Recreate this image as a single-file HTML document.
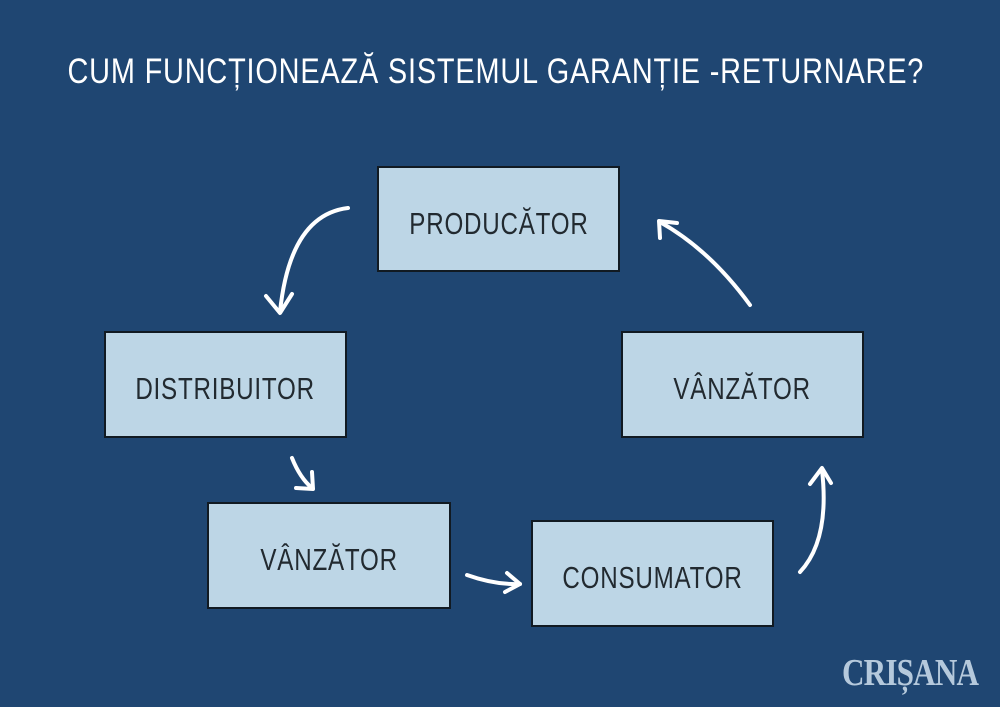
<!DOCTYPE html>
<html><head><meta charset="utf-8"><style>
body{margin:0;width:1000px;height:707px;background:#1f4672;overflow:hidden;position:relative;font-family:"Liberation Sans",sans-serif}
.t{position:absolute;left:-20px;width:1000px;top:52px;text-align:center;color:#fff;font-size:35px;letter-spacing:1px;white-space:nowrap;transform:scaleX(0.825);}
.b{position:absolute;width:238px;height:102px;background:#bdd6e6;border:2px solid #111a22;box-sizing:border-box;display:flex;align-items:center;justify-content:center;color:#222a30;font-size:31px;padding-top:9px}
.b span{display:inline-block;transform:scaleX(0.78);letter-spacing:1px;white-space:nowrap}
.logo{position:absolute;left:842px;top:651px;font-family:"Liberation Serif",serif;font-weight:bold;color:#b5c9dc;font-size:38px;transform:scaleX(0.82);transform-origin:left;letter-spacing:-1px}
</style></head><body>
<div class="t">CUM FUNCȚIONEAZĂ SISTEMUL GARANȚIE -RETURNARE?</div>
<div class="b" style="left:377px;top:166px;width:243px;height:106px"><span>PRODUCĂTOR</span></div>
<div class="b" style="left:104px;top:331px;width:243px;height:107px"><span>DISTRIBUITOR</span></div>
<div class="b" style="left:207px;top:502px;width:244px;height:107px"><span>VÂNZĂTOR</span></div>
<div class="b" style="left:531px;top:520px;width:243px;height:107px"><span>CONSUMATOR</span></div>
<div class="b" style="left:621px;top:331px;width:243px;height:107px"><span>VÂNZĂTOR</span></div>
<svg width="1000" height="707" style="position:absolute;left:0;top:0" fill="none" stroke="#fff" stroke-width="4" stroke-linecap="round" stroke-linejoin="round">
<path d="M348 208 Q290 215 280 312"/><path d="M266 296 L280 313 L292 294"/>
<path d="M292 458 Q300 478 312 488"/><path d="M296 488 L313 489 L312 472"/>
<path d="M467 575 Q495 585 520 584"/><path d="M507 573 L520 584 L505 592"/>
<path d="M800 572 Q830 540 822 470"/><path d="M810 484 L822 468 L831 483"/>
<path d="M750 305 Q710 250 660 222"/><path d="M660 238 L659 221 L677 223"/>
</svg>
<div class="logo">CRIȘANA</div>
</body></html>
